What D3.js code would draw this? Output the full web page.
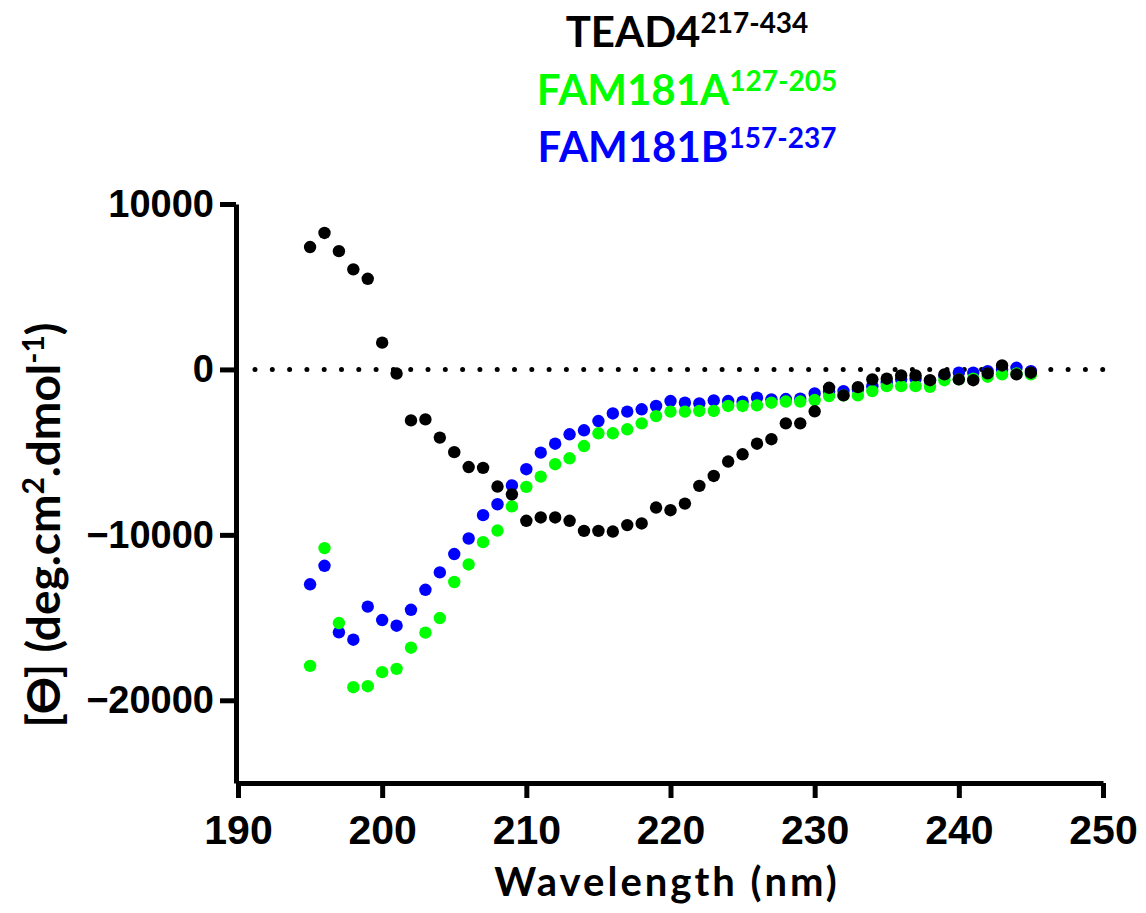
<!DOCTYPE html>
<html>
<head>
<meta charset="utf-8">
<script src="https://cdn.jsdelivr.net/npm/d3@7"></script>
<style>
  body { margin: 0; background: #fff; }
  .tick-label { font-family: "Liberation Sans", Arial, sans-serif; font-weight: bold; }
  .title { font-family: Lato, "Open Sans", sans-serif; font-weight: bold; }
</style>
</head>
<body>
<div class="container"></div>
<script>
const WIDTH = 1146;
const HEIGHT = 913;

const X_LEFT = 238;
const X_RIGHT = 1103;
const Y_TOP = 204;
const Y_BOTTOM = 783;

// wavelength (nm)
var wavelengths = [195, 196, 197, 198, 199, 200, 201, 202, 203, 204, 205, 206, 207, 208, 209,
    210, 211, 212, 213, 214, 215, 216, 217, 218, 219, 220, 221, 222, 223, 224, 225, 226, 227,
    228, 229, 230, 231, 232, 233, 234, 235, 236, 237, 238, 239, 240, 241, 242, 243, 244, 245];

var tead4 = [7400, 8250, 7150, 6050, 5480, 1620, -250, -3080, -3020, -4120, -5000, -5900, -5950,
    -7080, -7550, -9150, -8950, -8950, -9150, -9760, -9760, -9800, -9410, -9310, -8350, -8510,
    -8110, -7040, -6440, -5570, -5130, -4490, -4220, -3260, -3260, -2530, -1110, -1570, -1070,
    -600, -560, -360, -360, -650, -300, -600, -650, -240, 240, -300, -200];

var fam181a = [-17920, -10800, -15330, -19210, -19150, -18300, -18100, -16820, -15910, -15030,
    -12850, -11790, -10440, -9740, -8280, -7100, -6480, -5730, -5370, -4630, -3860, -3860, -3620,
    -3260, -2820, -2550, -2550, -2510, -2510, -2210, -2210, -2170, -2010, -1940, -1940, -1850,
    -1610, -1570, -1570, -1310, -1010, -1010, -1010, -1050, -650, -600, -560, -440, -300, -240, -300];

var fam181b = [-12990, -11870, -15890, -16340, -14340, -15150, -15490, -14530, -13320, -12270,
    -11160, -10220, -8810, -8150, -7010, -6030, -5030, -4490, -3920, -3680, -3120, -2660, -2550,
    -2410, -2210, -1910, -2010, -2050, -1870, -1910, -1950, -1710, -1810, -1790, -1770, -1450,
    -1330, -1310, -1200, -1010, -810, -600, -560, -700, -380, -200, -200, -100, 0, 100, -100];

var xTicks = [190, 200, 210, 220, 230, 240, 250];
var yTicks = [10000, 0, -10000, -20000];

// drawn back to front: blue, green, black
var series = [
    {name: 'FAM181B', range: '157-237', color: '#0000ff', values: fam181b},
    {name: 'FAM181A', range: '127-205', color: '#00ff00', values: fam181a},
    {name: 'TEAD4', range: '217-434', color: '#000000', values: tead4}
];
var legendOrder = ['TEAD4', 'FAM181A', 'FAM181B'];

var xScale = d3.scaleLinear()
    .domain([190, 250])
    .range([X_LEFT, X_RIGHT]);

var yScale = d3.scaleLinear()
    .domain([-25000, 10000])
    .range([Y_BOTTOM, Y_TOP]);

var translate = function(x, y){
    return "translate(" + x + "," + y + ")";
};

var styleAxis = function(g){
    g.selectAll('path, line')
        .attr('stroke', '#000')
        .attr('stroke-width', 5);
    g.selectAll('text')
        .classed('tick-label', true)
        .attr('fill', '#000');
};

var loadChart = function(){
    var svg = d3.select('.container').append('svg')
        .attr('width', WIDTH)
        .attr('height', HEIGHT);

    // dotted zero line
    svg.append('line')
        .attr('x1', 255)
        .attr('x2', X_RIGHT)
        .attr('y1', yScale(0))
        .attr('y2', yScale(0))
        .attr('stroke', '#000')
        .attr('stroke-width', 5)
        .attr('stroke-linecap', 'round')
        .attr('stroke-dasharray', '0 17.3');

    var xAxis = d3.axisBottom(xScale)
        .tickValues(xTicks)
        .tickSizeInner(15)
        .tickSizeOuter(0)
        .tickPadding(17)
        .tickFormat(d3.format('d'));

    var yAxis = d3.axisLeft(yScale)
        .tickValues(yTicks)
        .tickSizeInner(16)
        .tickSizeOuter(0)
        .tickPadding(6)
        .tickFormat(d3.format('d'));

    svg.append('g')
        .attr('transform', translate(0, Y_BOTTOM))
        .call(xAxis)
        .call(styleAxis)
        .selectAll('text')
        .style('font-size', '41px');

    svg.append('g')
        .attr('transform', translate(X_LEFT - 2, 0))
        .call(yAxis)
        .call(styleAxis)
        .selectAll('text')
        .style('font-size', '38px');

    // points
    series.forEach(function(s){
        svg.append('g').selectAll('circle')
            .data(s.values)
            .enter()
            .append('circle')
            .attr('r', 6.2)
            .attr('cx', function(d, i){ return xScale(wavelengths[i]); })
            .attr('cy', function(d){ return yScale(d); })
            .attr('fill', s.color);
    });

    // axis titles
    svg.append('text')
        .classed('title', true)
        .attr('x', 667)
        .attr('y', 896)
        .attr('text-anchor', 'middle')
        .style('font-size', '40px')
        .style('letter-spacing', '3px')
        .text('Wavelength (nm)');

    var yTitle = svg.append('text')
        .classed('title', true)
        .attr('transform', translate(60, 525) + ' rotate(-90)')
        .attr('text-anchor', 'middle')
        .style('font-size', '46px');
    yTitle.append('tspan').text('[Ɵ] (deg.cm');
    yTitle.append('tspan').attr('dy', -16).style('font-size', '30px').text('2');
    yTitle.append('tspan').attr('dy', 16).text('.dmol');
    yTitle.append('tspan').attr('dy', -16).style('font-size', '30px').text('-1');
    yTitle.append('tspan').attr('dy', 16).text(')');

    // legend
    var legendY = [47, 105, 162];
    legendOrder.forEach(function(name, i){
        var s = series.filter(function(d){ return d.name === name; })[0];
        var t = svg.append('text')
            .classed('title', true)
            .attr('x', 687)
            .attr('y', legendY[i])
            .attr('text-anchor', 'middle')
            .attr('fill', s.color)
            .style('font-size', '42px');
        t.append('tspan').text(s.name);
        t.append('tspan').attr('dy', -14).style('font-size', '28px').text(s.range);
    });
};

window.onload = loadChart;
</script>
</body>
</html>
